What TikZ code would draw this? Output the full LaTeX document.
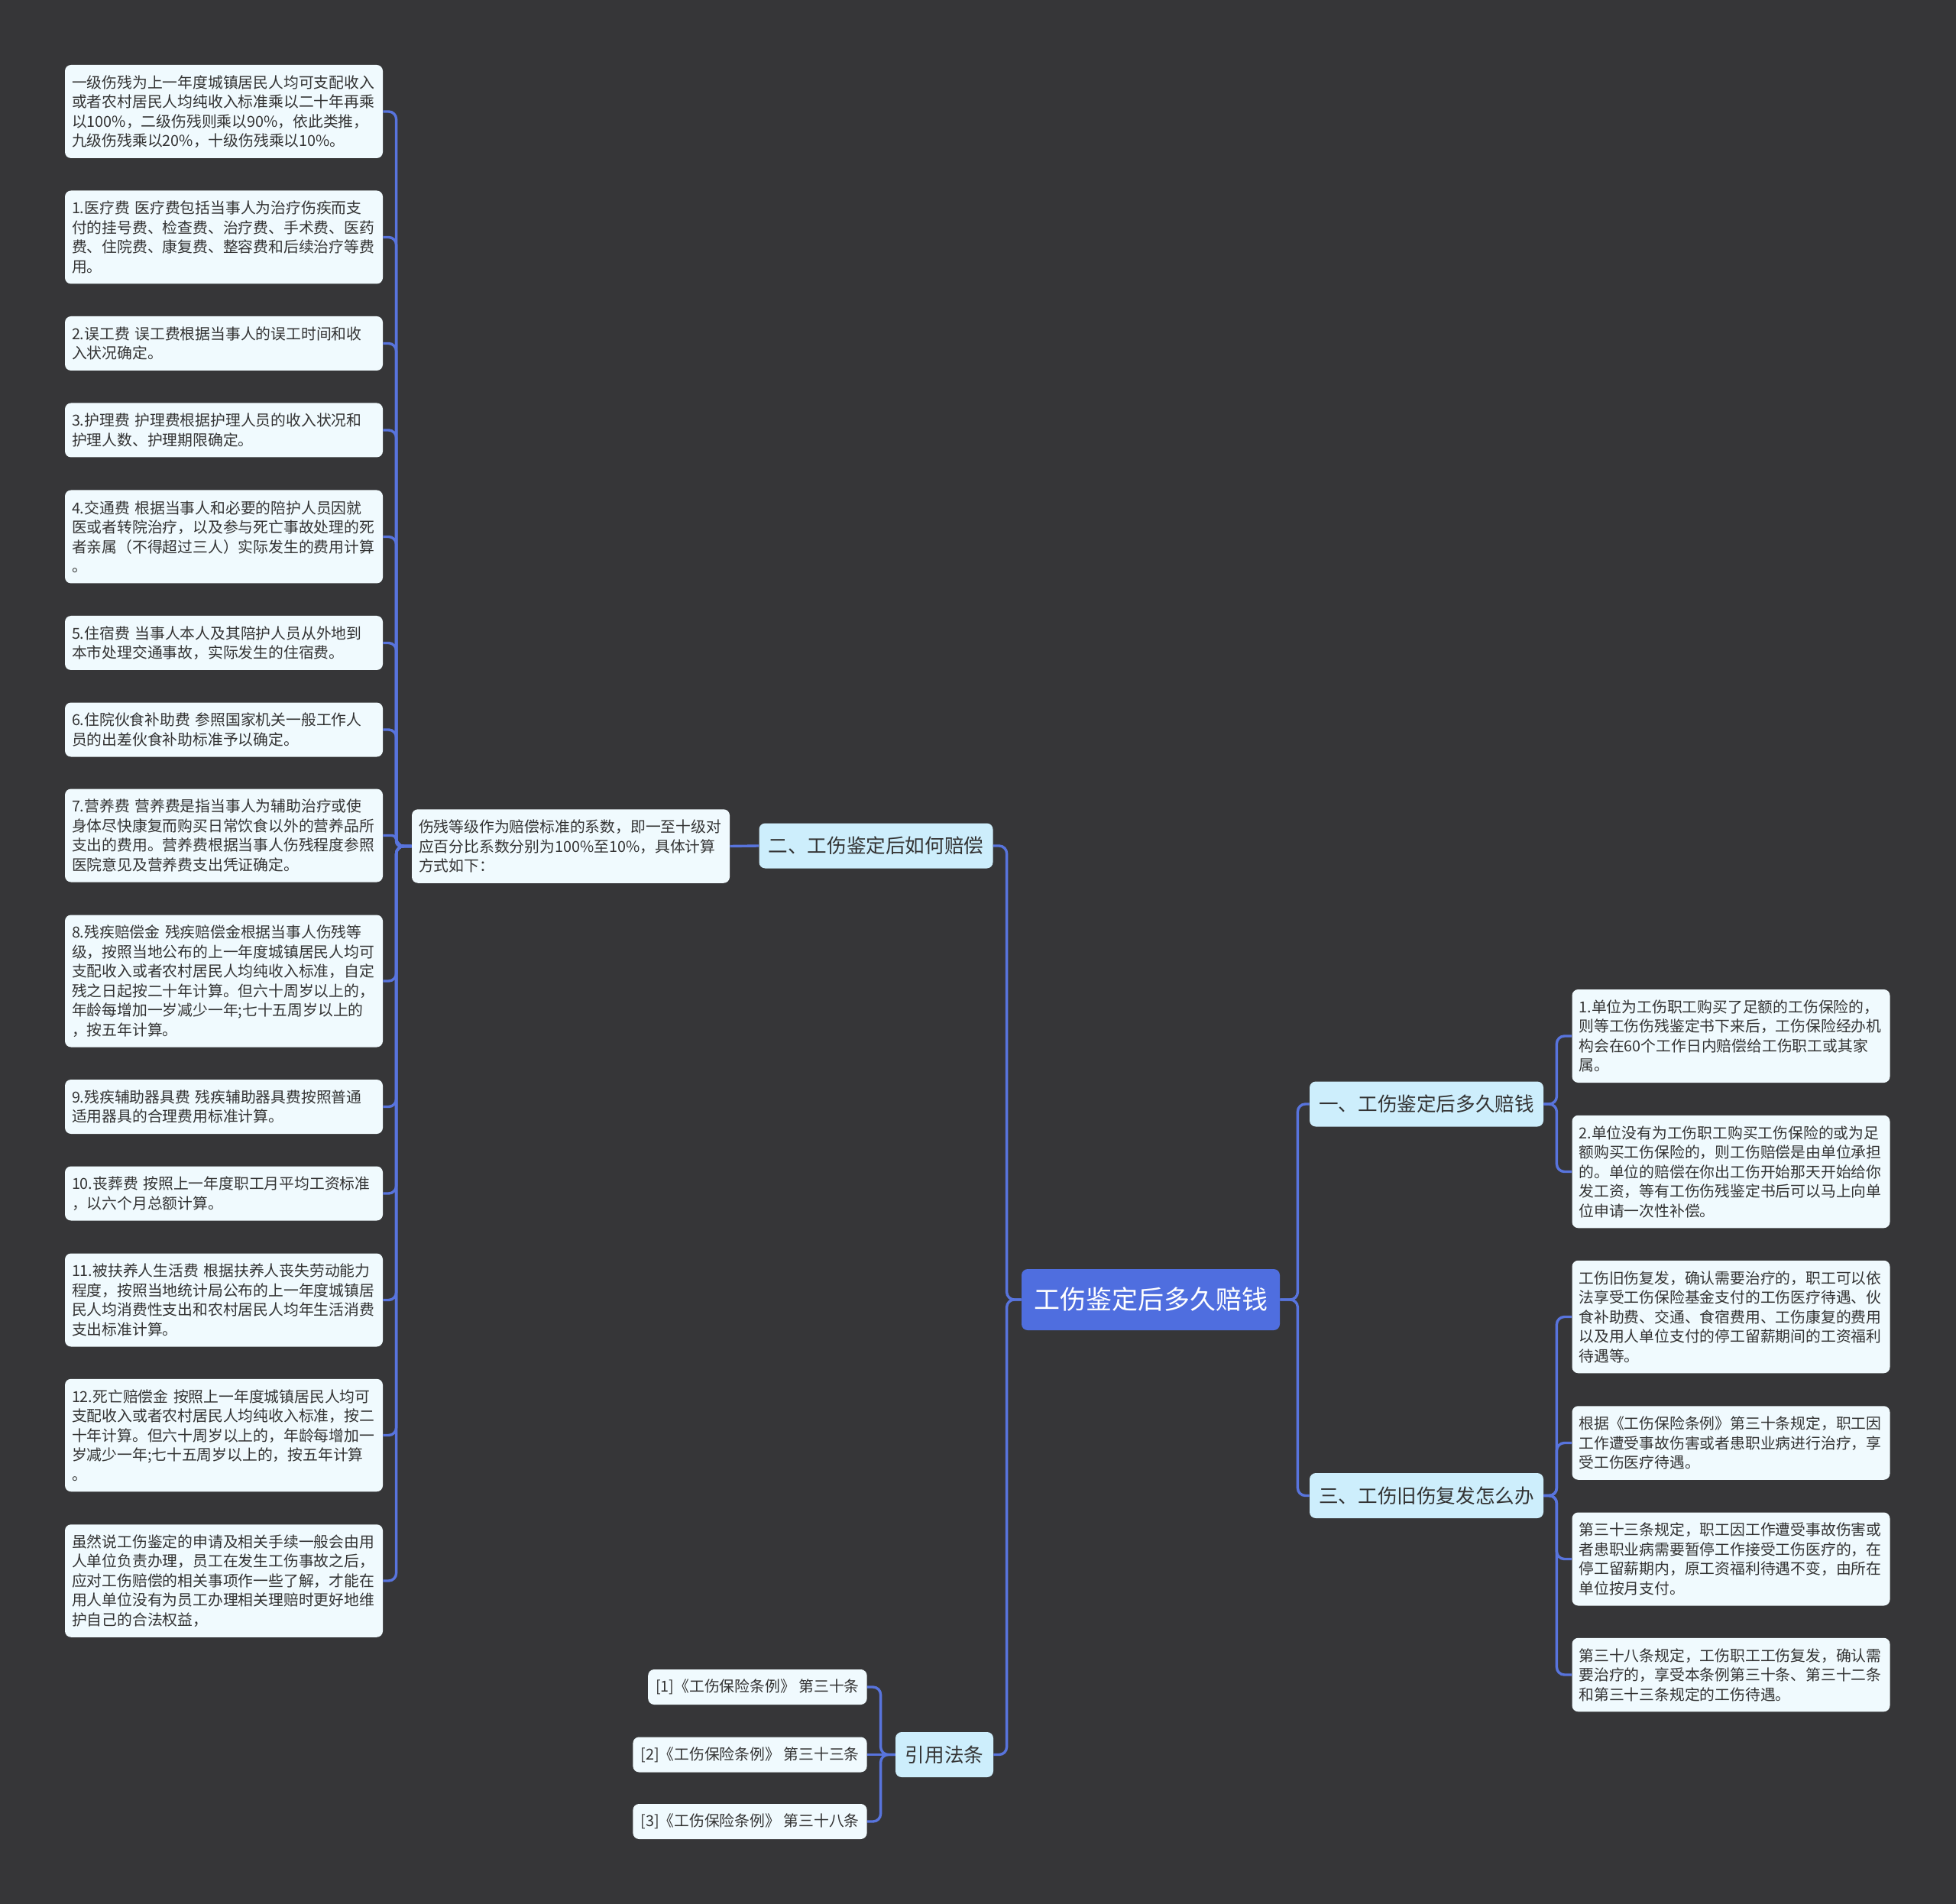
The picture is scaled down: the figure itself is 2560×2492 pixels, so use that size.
\documentclass[tikz,border=0pt]{standalone}
\usepackage{fontspec}
\setmainfont{Noto Sans CJK SC}
\usetikzlibrary{positioning,calc}

\definecolor{bgGray}{HTML}{363638}
\definecolor{lineBlue}{HTML}{5874DD}
\definecolor{rootBlue}{HTML}{4F6EDF}
\definecolor{topicFill}{HTML}{CDEEFC}
\definecolor{leafFill}{HTML}{F0FAFE}
\definecolor{txtGray}{HTML}{333333}

\begin{document}
\begin{tikzpicture}[x=0.5pt, y=-0.5pt,
		every node/.style={inner sep=0pt, text=txtGray},
		leafBox/.style={
				fill=leafFill, rounded corners=4pt,
				align=left, text width=199pt, inner xsep=4.5pt,
				minimum height={12.75pt*#1+10pt},
				font=\fontsize{9.9}{12.75}\selectfont
			},
		lawBox/.style={
				fill=leafFill, rounded corners=4pt, anchor=east,
				inner xsep=5pt, minimum height=23pt,
				font=\fontsize{9.9}{12.75}\selectfont
			},
		topicBox/.style={
				fill=topicFill, rounded corners=4pt,
				minimum height=29.5pt, inner xsep=6pt,
				font=\fontsize{12.8}{15}\selectfont
			},
		rootBox/.style={
				fill=rootBlue, rounded corners=4pt, text=white,
				minimum width=169pt, minimum height=40pt,
				font=\fontsize{17}{20}\selectfont
			},
		linkLine/.style={draw=lineBlue, line width=1.7pt, rounded corners=5pt}
	]

	% background and page size
	\fill[bgGray] (0,0) rectangle (2560,2492);
	\useasboundingbox (0,0) rectangle (2560,2492);

	% root and main topics
	\node[rootBox] (root) at (1506,1701) {工伤鉴定后多久赔钱};
	\node[topicBox, minimum width=153pt] (T1) at (1146.5,1107) {二、工伤鉴定后如何赔偿};
	\node[topicBox, minimum width=153pt] (T2) at (1867,1445) {一、工伤鉴定后多久赔钱};
	\node[topicBox, minimum width=153pt] (T3) at (1867,1957.5) {三、工伤旧伤复发怎么办};
	\node[topicBox, minimum width=64pt] (T4) at (1236,2296.5) {引用法条};

	% second branch
	\node[leafBox=3] (M) at (747,1107.5) {伤残等级作为赔偿标准的系数，即一至十级对\\应百分比系数分别为100\%至10\%，具体计算\\方式如下：};

	% left column
	\node[leafBox=4] (L1) at (293,146) {一级伤残为上一年度城镇居民人均可支配收入\\或者农村居民人均纯收入标准乘以二十年再乘\\以100\%，二级伤残则乘以90\%，依此类推，\\九级伤残乘以20\%，十级伤残乘以10\%。};
	\node[leafBox=4] (L2) at (293,310.5) {1.医疗费 医疗费包括当事人为治疗伤疾而支\\付的挂号费、检查费、治疗费、手术费、医药\\费、住院费、康复费、整容费和后续治疗等费\\用。};
	\node[leafBox=2] (L3) at (293,449.5) {2.误工费 误工费根据当事人的误工时间和收\\入状况确定。};
	\node[leafBox=2] (L4) at (293,563) {3.护理费 护理费根据护理人员的收入状况和\\护理人数、护理期限确定。};
	\node[leafBox=4] (L5) at (293,702.5) {4.交通费 根据当事人和必要的陪护人员因就\\医或者转院治疗，以及参与死亡事故处理的死\\者亲属（不得超过三人）实际发生的费用计算\\。};
	\node[leafBox=2] (L6) at (293,841.5) {5.住宿费 当事人本人及其陪护人员从外地到\\本市处理交通事故，实际发生的住宿费。};
	\node[leafBox=2] (L7) at (293,955) {6.住院伙食补助费 参照国家机关一般工作人\\员的出差伙食补助标准予以确定。};
	\node[leafBox=4] (L8) at (293,1093.5) {7.营养费 营养费是指当事人为辅助治疗或使\\身体尽快康复而购买日常饮食以外的营养品所\\支出的费用。营养费根据当事人伤残程度参照\\医院意见及营养费支出凭证确定。};
	\node[leafBox=6] (L9) at (293,1284) {8.残疾赔偿金 残疾赔偿金根据当事人伤残等\\级，按照当地公布的上一年度城镇居民人均可\\支配收入或者农村居民人均纯收入标准，自定\\残之日起按二十年计算。但六十周岁以上的，\\年龄每增加一岁减少一年;七十五周岁以上的\\，按五年计算。};
	\node[leafBox=2] (L10) at (293,1448.5) {9.残疾辅助器具费 残疾辅助器具费按照普通\\适用器具的合理费用标准计算。};
	\node[leafBox=2] (L11) at (293,1562) {10.丧葬费 按照上一年度职工月平均工资标准\\，以六个月总额计算。};
	\node[leafBox=4] (L12) at (293,1701.5) {11.被扶养人生活费 根据扶养人丧失劳动能力\\程度，按照当地统计局公布的上一年度城镇居\\民人均消费性支出和农村居民人均年生活消费\\支出标准计算。};
	\node[leafBox=5] (L13) at (293,1878.5) {12.死亡赔偿金 按照上一年度城镇居民人均可\\支配收入或者农村居民人均纯收入标准，按二\\十年计算。但六十周岁以上的，年龄每增加一\\岁减少一年;七十五周岁以上的，按五年计算\\。};
	\node[leafBox=5] (L14) at (293,2069) {虽然说工伤鉴定的申请及相关手续一般会由用\\人单位负责办理，员工在发生工伤事故之后，\\应对工伤赔偿的相关事项作一些了解，才能在\\用人单位没有为员工办理相关理赔时更好地维\\护自己的合法权益，};

	% right column
	\node[leafBox=4] (R1) at (2265.5,1356) {1.单位为工伤职工购买了足额的工伤保险的，\\则等工伤伤残鉴定书下来后，工伤保险经办机\\构会在60个工作日内赔偿给工伤职工或其家\\属。};
	\node[leafBox=5] (R2) at (2265.5,1533.5) {2.单位没有为工伤职工购买工伤保险的或为足\\额购买工伤保险的，则工伤赔偿是由单位承担\\的。单位的赔偿在你出工伤开始那天开始给你\\发工资，等有工伤伤残鉴定书后可以马上向单\\位申请一次性补偿。};
	\node[leafBox=5] (R3) at (2265.5,1723.5) {工伤旧伤复发，确认需要治疗的，职工可以依\\法享受工伤保险基金支付的工伤医疗待遇、伙\\食补助费、交通、食宿费用、工伤康复的费用\\以及用人单位支付的停工留薪期间的工资福利\\待遇等。};
	\node[leafBox=3] (R4) at (2265.5,1888.5) {根据《工伤保险条例》第三十条规定，职工因\\工作遭受事故伤害或者患职业病进行治疗，享\\受工伤医疗待遇。};
	\node[leafBox=4] (R5) at (2265.5,2040.5) {第三十三条规定，职工因工作遭受事故伤害或\\者患职业病需要暂停工作接受工伤医疗的，在\\停工留薪期内，原工资福利待遇不变，由所在\\单位按月支付。};
	\node[leafBox=3] (R6) at (2265.5,2192) {第三十八条规定，工伤职工工伤复发，确认需\\要治疗的，享受本条例第三十条、第三十二条\\和第三十三条规定的工伤待遇。};

	% cited laws
	\node[lawBox] (F1) at (1135,2208) {[1]《工伤保险条例》 第三十条};
	\node[lawBox] (F2) at (1135,2296.5) {[2]《工伤保险条例》 第三十三条};
	\node[lawBox] (F3) at (1135,2384) {[3]《工伤保险条例》 第三十八条};

	% connectors
	\draw[linkLine] (root.west) -- ++(-19,0) |- (T1.east);
	\draw[linkLine] (root.west) -- ++(-19,0) |- (T4.east);
	\draw[linkLine] (root.east) -- ++(23,0) |- (T2.west);
	\draw[linkLine] (root.east) -- ++(23,0) |- (T3.west);
	\draw[linkLine] (T1.west) -- (M.east);
	\foreach \i in {1,...,7,9,10,...,14}
	\draw[linkLine] (M.west) -- ++(-20,0) |- (L\i.east);
	\draw[linkLine, rounded corners=3pt] (M.west) -- ++(-20,0) |- (L8.east);
	\foreach \i in {1,2}
	\draw[linkLine] (T2.east) -- ++(17,0) |- (R\i.west);
	\foreach \i in {3,...,6}
	\draw[linkLine] (T3.east) -- ++(17,0) |- (R\i.west);
	\draw[linkLine] (T4.west) -- ++(-19,0) |- (F1.east);
	\draw[linkLine] (T4.west) -- (F2.east);
	\draw[linkLine] (T4.west) -- ++(-19,0) |- (F3.east);
\end{tikzpicture}
\end{document}
